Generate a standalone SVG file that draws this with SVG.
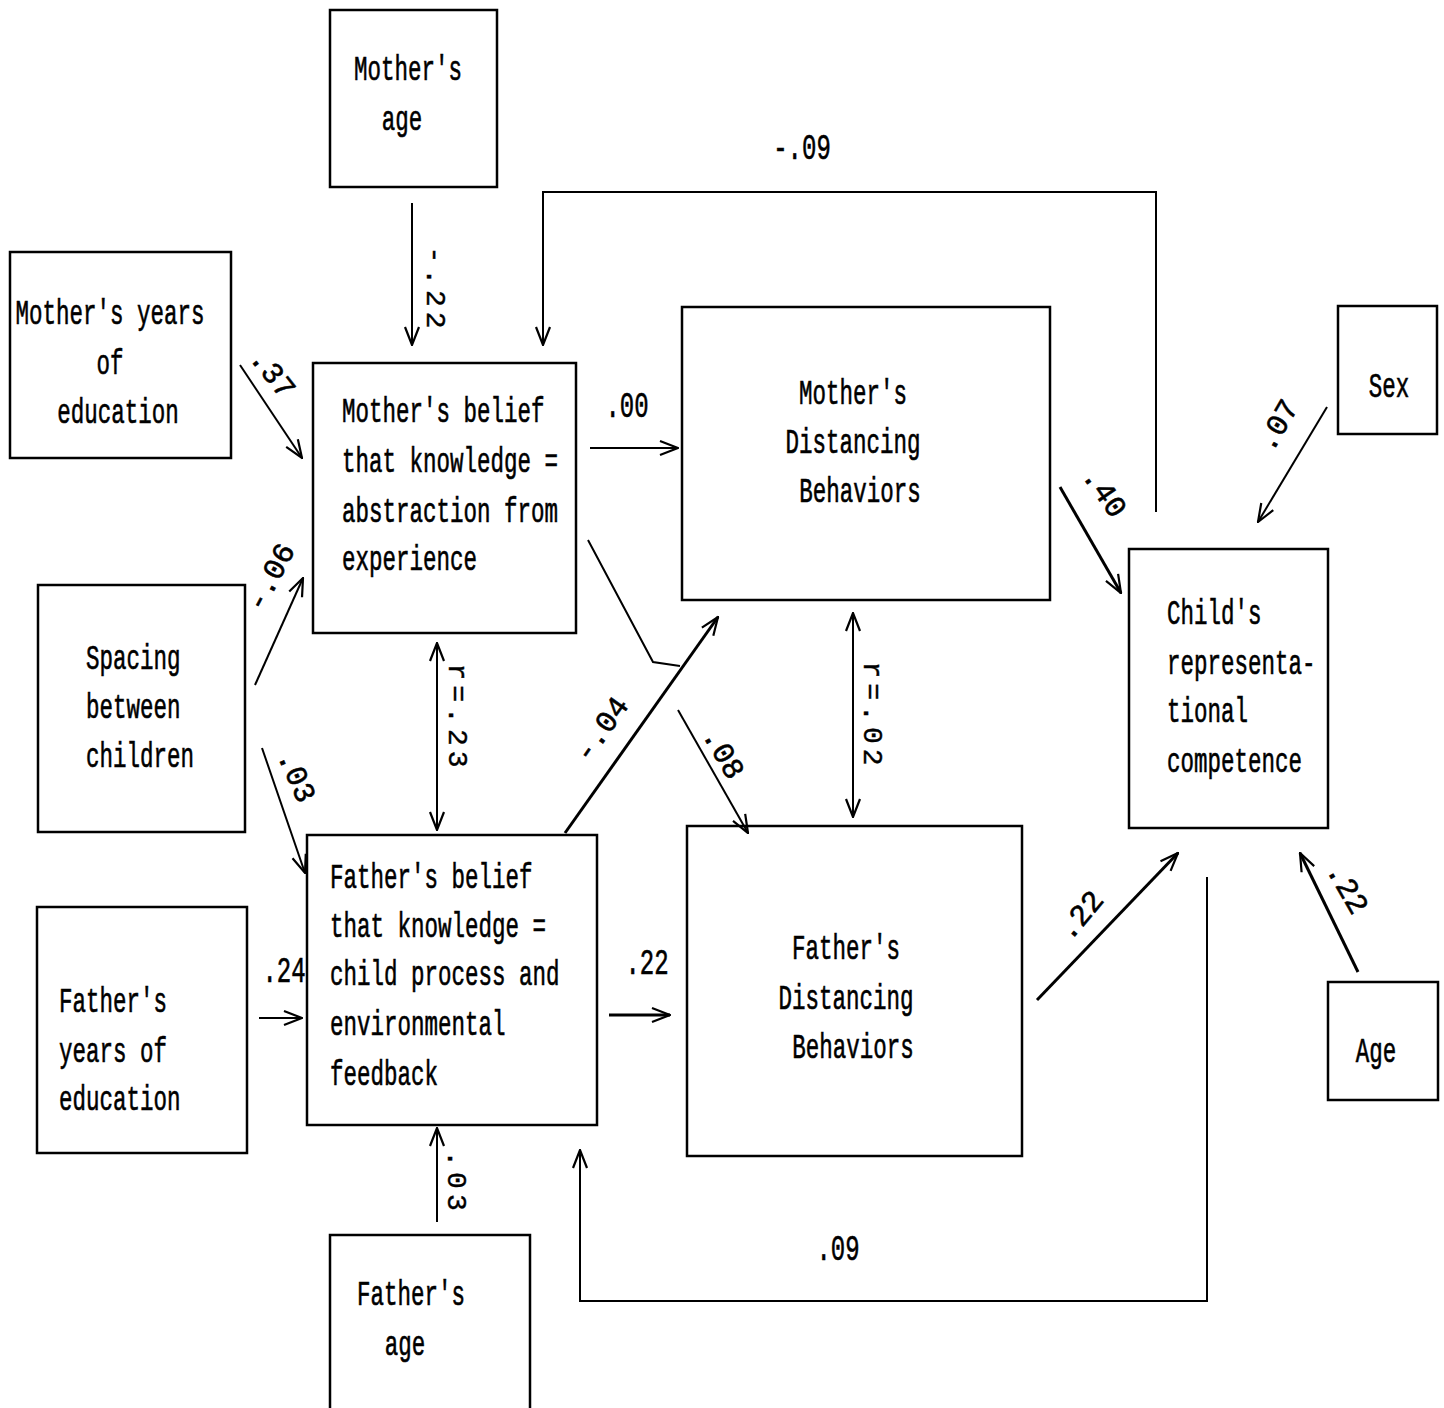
<svg xmlns="http://www.w3.org/2000/svg" width="1444" height="1408" viewBox="0 0 1444 1408">
<style>
.box{fill:#fff;stroke:#000;stroke-width:2.5}
text{font-family:"Liberation Mono","DejaVu Sans Mono",monospace;font-size:22.5px;fill:#000;stroke:#000;stroke-width:0.4}
.c{text-anchor:middle}
.lbl{font-size:24px;text-anchor:middle}
.rl{font-size:28px;text-anchor:middle;letter-spacing:5px}
.hl{font-size:30px;text-anchor:middle;stroke-width:0.6}
.ln{fill:none;stroke:#000;stroke-width:2}
.th{fill:none;stroke:#000;stroke-width:3}
</style>
<defs>
<marker id="a" viewBox="0 0 20 20" refX="19" refY="10" markerWidth="20" markerHeight="20" markerUnits="userSpaceOnUse" orient="auto-start-reverse">
<polyline points="1,3 19,10 1,17" fill="none" stroke="#000" stroke-width="2.2"/>
</marker>
</defs>
<rect width="1444" height="1408" fill="#fff"/>
<g id="mothers-age"><rect class="box" x="330" y="10" width="167" height="177"/><text class="c" transform="translate(408,80) scale(1,1.55)">Mother's</text><text class="c" transform="translate(402,130) scale(1,1.55)">age</text></g>
<g id="mothers-education"><rect class="box" x="10" y="252" width="221" height="206"/><text class="c" transform="translate(110,324) scale(1,1.55)">Mother's years</text><text class="c" transform="translate(110,374) scale(1,1.55)">of</text><text class="c" transform="translate(118,423) scale(1,1.55)">education</text></g>
<g id="spacing"><rect class="box" x="38" y="585" width="207" height="247"/><text transform="translate(86,669) scale(1,1.55)">Spacing</text><text transform="translate(86,718) scale(1,1.55)">between</text><text transform="translate(86,767) scale(1,1.55)">children</text></g>
<g id="fathers-education"><rect class="box" x="37" y="907" width="210" height="246"/><text transform="translate(59,1012) scale(1,1.55)">Father's</text><text transform="translate(59,1062) scale(1,1.55)">years of</text><text transform="translate(59,1110) scale(1,1.55)">education</text></g>
<g id="mothers-belief"><rect class="box" x="313" y="363" width="263" height="270"/><text transform="translate(342,422) scale(1,1.55)">Mother's belief</text><text transform="translate(342,472) scale(1,1.55)">that knowledge =</text><text transform="translate(342,522) scale(1,1.55)">abstraction from</text><text transform="translate(342,570) scale(1,1.55)">experience</text></g>
<g id="fathers-belief"><rect class="box" x="307" y="835" width="290" height="290"/><text transform="translate(330,888) scale(1,1.55)">Father's belief</text><text transform="translate(330,937) scale(1,1.55)">that knowledge =</text><text transform="translate(330,985) scale(1,1.55)">child process and</text><text transform="translate(330,1035) scale(1,1.55)">environmental</text><text transform="translate(330,1085) scale(1,1.55)">feedback</text></g>
<g id="mothers-distancing"><rect class="box" x="682" y="307" width="368" height="293"/><text class="c" transform="translate(853,404) scale(1,1.55)">Mother's</text><text class="c" transform="translate(853,453) scale(1,1.55)">Distancing</text><text class="c" transform="translate(860,502) scale(1,1.55)">Behaviors</text></g>
<g id="fathers-distancing"><rect class="box" x="687" y="826" width="335" height="330"/><text class="c" transform="translate(846,959) scale(1,1.55)">Father's</text><text class="c" transform="translate(846,1009) scale(1,1.55)">Distancing</text><text class="c" transform="translate(853,1058) scale(1,1.55)">Behaviors</text></g>
<g id="child-competence"><rect class="box" x="1129" y="549" width="199" height="279"/><text transform="translate(1167,624) scale(1,1.55)">Child's</text><text transform="translate(1167,674) scale(1,1.55)">representa-</text><text transform="translate(1167,722) scale(1,1.55)">tional</text><text transform="translate(1167,772) scale(1,1.55)">competence</text></g>
<g id="sex"><rect class="box" x="1338" y="306" width="99" height="128"/><text class="c" transform="translate(1389,397) scale(1,1.55)">Sex</text></g>
<g id="age"><rect class="box" x="1328" y="982" width="110" height="118"/><text class="c" transform="translate(1376,1062) scale(1,1.55)">Age</text></g>
<g id="fathers-age"><rect class="box" x="330" y="1235" width="200" height="180"/><text class="c" transform="translate(411,1305) scale(1,1.55)">Father's</text><text class="c" transform="translate(405,1355) scale(1,1.55)">age</text></g>
<g id="connectors">
<line class="ln" x1="412" y1="203" x2="412" y2="345" marker-end="url(#a)"/>
<text class="rl" transform="translate(436,290) rotate(90)" y="9">-.22</text>
<polyline class="ln" points="1156,512 1156,192 543,192 543,345" marker-end="url(#a)"/>
<text class="lbl" transform="translate(802,159) scale(1,1.55)">-.09</text>
<line class="ln" x1="240" y1="365" x2="302" y2="458" marker-end="url(#a)"/>
<text class="hl" transform="translate(273,373) rotate(52)" y="10">.37</text>
<line class="ln" x1="255" y1="685" x2="303" y2="578" marker-end="url(#a)"/>
<text class="hl" transform="translate(270,577) rotate(-62)" y="10">-.06</text>
<line class="ln" x1="262" y1="748" x2="305" y2="873" marker-end="url(#a)"/>
<text class="hl" transform="translate(297,776) rotate(66)" y="10">.03</text>
<line class="ln" x1="259" y1="1018" x2="302" y2="1018" marker-end="url(#a)"/>
<text class="lbl" transform="translate(284,982) scale(1,1.55)">.24</text>
<line class="ln" x1="590" y1="448" x2="678" y2="448" marker-end="url(#a)"/>
<text class="lbl" transform="translate(627,417) scale(1,1.55)">.00</text>
<polyline class="ln" points="588,540 653,662 680,666"/>
<line class="ln" x1="678" y1="710" x2="748" y2="833" marker-end="url(#a)"/>
<text class="hl" transform="translate(724,753) rotate(60)" y="10">.08</text>
<line class="th" x1="565" y1="833" x2="718" y2="617" marker-end="url(#a)"/>
<text class="hl" transform="translate(601,729) rotate(-55)" y="10">-.04</text>
<line class="ln" x1="437" y1="643" x2="437" y2="830" marker-start="url(#a)" marker-end="url(#a)"/>
<text class="rl" transform="translate(458,718) rotate(90)" y="9">r=.23</text>
<line class="ln" x1="853" y1="613" x2="853" y2="817" marker-start="url(#a)" marker-end="url(#a)"/>
<text class="rl" transform="translate(873,716) rotate(90)" y="9">r=.02</text>
<line class="th" x1="1060" y1="487" x2="1121" y2="593" marker-end="url(#a)"/>
<text class="hl" transform="translate(1105,492) rotate(55)" y="10">.40</text>
<line class="ln" x1="1327" y1="407" x2="1258" y2="522" marker-end="url(#a)"/>
<text class="hl" transform="translate(1277,425) rotate(-60)" y="10">.07</text>
<line class="th" x1="1037" y1="1000" x2="1178" y2="853" marker-end="url(#a)"/>
<text class="hl" transform="translate(1080,915) rotate(-50)" y="10">.22</text>
<line class="th" x1="1358" y1="972" x2="1300" y2="853" marker-end="url(#a)"/>
<text class="hl" transform="translate(1348,888) rotate(60)" y="10">.22</text>
<line class="th" x1="609" y1="1015" x2="670" y2="1015" marker-end="url(#a)"/>
<text class="lbl" transform="translate(647,974) scale(1,1.55)">.22</text>
<line class="ln" x1="437" y1="1222" x2="437" y2="1128" marker-end="url(#a)"/>
<text class="rl" transform="translate(457,1183) rotate(90)" y="9">.03</text>
<polyline class="ln" points="1207,877 1207,1301 580,1301 580,1150" marker-end="url(#a)"/>
<text class="lbl" transform="translate(838,1260) scale(1,1.55)">.09</text>
</g>
</svg>
